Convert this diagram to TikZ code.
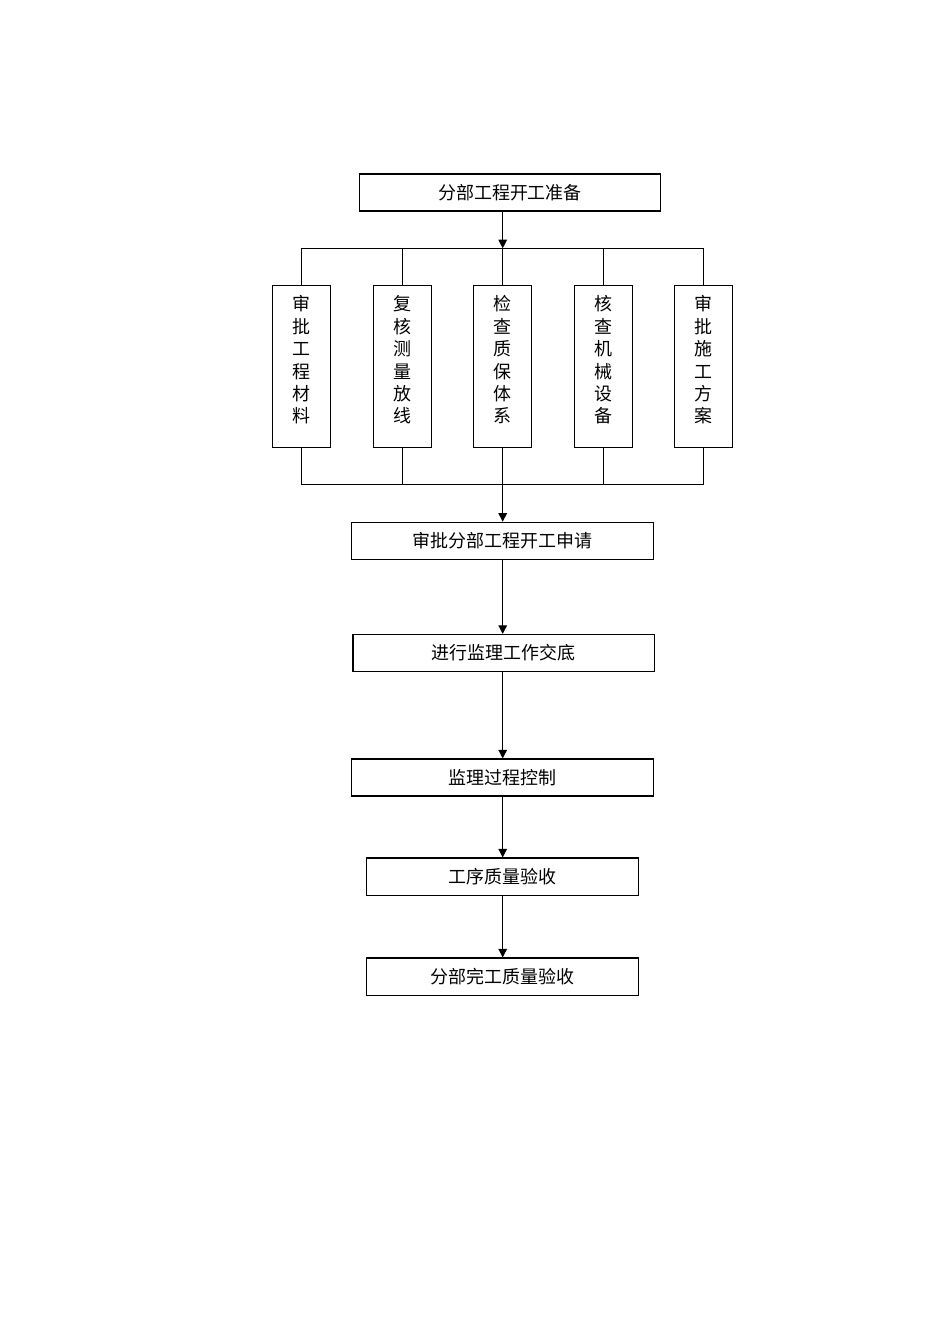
\documentclass[tikz,border=0pt]{standalone}
\usepackage{fontspec}
\newfontfamily\cjk{Noto Sans CJK SC}
\usepackage{tikz}
\usetikzlibrary{arrows.meta,positioning,calc}

\begin{document}
\begin{tikzpicture}[
  x=0.022105cm,y=-0.022105cm,
  stage/.style={draw=black,line width=0.7pt,align=center,inner sep=0pt,
                minimum width=6.67cm,minimum height=0.82cm,
                font=\cjk\fontsize{11.3}{14}\selectfont},
  check/.style={draw=black,line width=0.7pt,align=center,inner sep=0pt,
                minimum width=1.28cm,minimum height=3.57cm,
                font=\cjk\fontsize{11.3}{14.1}\selectfont},
  link/.style={line width=0.7pt,draw=black},
  arrow/.style={-{Triangle[length=1.9mm,width=1.9mm]},line width=0.7pt,draw=black}
]
  \useasboundingbox (0,0) rectangle (950,1344);
  % top stage
  \node[stage,minimum width=6.65cm] (prep) at (510,192.5) {分部工程开工准备};
  \coordinate (split) at (502.7,248.3);
  \coordinate (merge) at (502.7,484.3);
  % the five checks
  \node[check] (c1) at (301.3,366.5) {审\\批\\工\\程\\材\\料\\[-5pt]\mbox{}};
  \node[check] (c2) at (402.2,366.5) {复\\核\\测\\量\\放\\线\\[-5pt]\mbox{}};
  \node[check] (c3) at (502.7,366.5) {检\\查\\质\\保\\体\\系\\[-5pt]\mbox{}};
  \node[check] (c4) at (603.3,366.5) {核\\查\\机\\械\\设\\备\\[-5pt]\mbox{}};
  \node[check] (c5) at (703.8,366.5) {审\\批\\施\\工\\方\\案\\[-5pt]\mbox{}};
  % stages below
  \node[stage,minimum width=6.68cm] (apply) at (502.7,540.8) {审批分部工程开工申请};
  \node[stage] (brief) at (503.8,653) {进行监理工作交底};
  \node[stage] (control) at (502.5,777.5) {监理过程控制};
  \node[stage,minimum width=6.03cm] (accept) at (502.5,876.5) {工序质量验收};
  \node[stage,minimum width=6.03cm] (final) at (502.5,976.5) {分部完工质量验收};
  % connectors
  \draw[arrow] (prep.south -| split) -- (split);
  \draw[link] (c1.north |- split) -- (c5.north |- split);
  \draw[link] (c1.south |- merge) -- (c5.south |- merge);
  \foreach \i in {1,...,5}{
    \draw[link] (c\i.north |- split) -- (c\i.north);
    \draw[link] (c\i.south) -- (c\i.south |- merge);
  }
  \draw[arrow] (merge) -- (apply.north -| merge);
  \draw[arrow] (apply.south -| merge) -- (brief.north -| merge);
  \draw[arrow] (brief.south -| merge) -- (control.north -| merge);
  \draw[arrow] (control.south -| merge) -- (accept.north -| merge);
  \draw[arrow] (accept.south -| merge) -- (final.north -| merge);
\end{tikzpicture}
\end{document}
